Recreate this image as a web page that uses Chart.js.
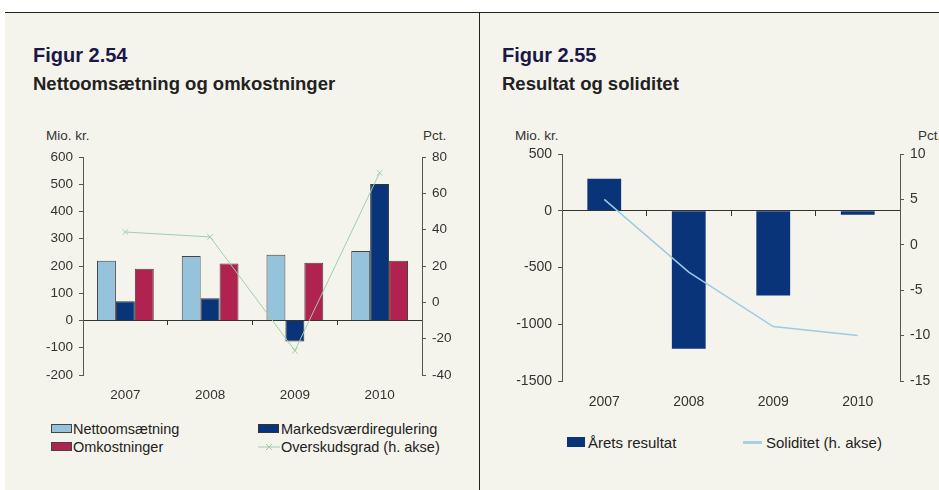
<!DOCTYPE html>
<html>
<head>
<meta charset="utf-8">
<script src="https://cdn.jsdelivr.net/npm/chart.js@4"></script>
<style>
  html, body { margin:0; padding:0; background:#ffffff; width:939px; height:490px; overflow:hidden; }
  body { position:relative; font-family:"Liberation Sans", Arial, sans-serif; }
  #panel { position:absolute; left:5px; top:12px; width:934px; height:478px; background:#f5f4ec; border-top:1.5px solid #222; box-sizing:border-box; }
  #divider { position:absolute; left:478.5px; top:12px; width:1px; height:478px; background:#222; }
  .t { position:absolute; white-space:nowrap; line-height:1; }
  .fig { font-size:20px; font-weight:bold; color:#1b1748; }
  .sub { font-size:18.5px; font-weight:bold; color:#222; }
  .unit { font-size:13.5px; color:#333; }
  .leg { font-size:15px; color:#222; }
  .leg1 { font-size:14.5px; color:#222; }
  .box { position:absolute; box-sizing:border-box; }
  canvas { position:absolute; }
</style>
</head>
<body>
<div id="panel"></div>
<div id="divider"></div>

<div class="t fig" style="left:33px; top:45px;">Figur 2.54</div>
<div class="t sub" style="left:33px; top:75px;">Nettoomsætning og omkostninger</div>
<div class="t unit" style="left:46px; top:129px;">Mio. kr.</div>
<div class="t unit" style="left:423px; top:129px;">Pct.</div>

<div class="t fig" style="left:502px; top:45px;">Figur 2.55</div>
<div class="t sub" style="left:502px; top:75px;">Resultat og soliditet</div>
<div class="t unit" style="left:515px; top:129px;">Mio. kr.</div>
<div class="t unit" style="left:918px; top:129px;">Pct.</div>

<div style="position:absolute; left:5px; top:100px; width:473px; height:310px;"><canvas id="c1" width="473" height="310" style="left:0;top:0;"></canvas></div>
<div style="position:absolute; left:480px; top:100px; width:459px; height:310px;"><canvas id="c2" width="459" height="310" style="left:0;top:0;"></canvas></div>

<!-- Legend chart 1 -->
<div class="box" style="left:51px; top:424px; width:21px; height:9px; background:#96c3dc; border:1px solid #444;"></div>
<div class="t leg1" style="left:73px; top:422px;">Nettoomsætning</div>
<div class="box" style="left:258px; top:424px; width:21px; height:9px; background:#0a3479; border:1px solid #333;"></div>
<div class="t leg1" style="left:281px; top:422px;">Markedsværdiregulering</div>
<div class="box" style="left:51px; top:442px; width:21px; height:9px; background:#b0224f; border:1px solid #444;"></div>
<div class="t leg1" style="left:73px; top:440px;">Omkostninger</div>
<svg style="position:absolute; left:258px; top:441px;" width="22" height="12"><line x1="0" y1="6" x2="22" y2="6" stroke="#9dcfa9" stroke-width="1"/><line x1="8" y1="3" x2="14" y2="9" stroke="#9dcfa9" stroke-width="1"/><line x1="14" y1="3" x2="8" y2="9" stroke="#9dcfa9" stroke-width="1"/></svg>
<div class="t leg1" style="left:281px; top:440px;">Overskudsgrad (h. akse)</div>

<!-- Legend chart 2 -->
<div class="box" style="left:567px; top:437px; width:18px; height:10px; background:#0a3479;"></div>
<div class="t leg" style="left:588px; top:435px;">Årets resultat</div>
<div class="box" style="left:743px; top:441px; width:19px; height:2.5px; background:#a9cfe3;"></div>
<div class="t leg" style="left:766px; top:435px;">Soliditet (h. akse)</div>

<script>
// ---- Data ----
const years = ['2007', '2008', '2009', '2010'];
const nettoomsaetning = [219, 237, 241, 255];
const markedsvaerdiregulering = [71, 82, -77, 501];
const omkostninger = [190, 209, 212, 219];
const overskudsgrad = [38.7, 36, -26.6, 71.3];

const aaretsResultat = [282, -1215, -747, -35];
const soliditet = [5, -3, -9, -10];

const leftTicks1 = { min: -200, max: 600, step: 100 };
const rightTicks1 = { min: -40, max: 80, step: 20 };
const leftTicks2 = { min: -1500, max: 500, step: 500 };
const rightTicks2 = { min: -15, max: 10, step: 5 };

const FONT = '"Liberation Sans", Arial, sans-serif';
const TXT = '#333333';
const AX = '#555555';

function yAxis(pos, t, width, fs) {
  return {
    type: 'linear', position: pos, min: t.min, max: t.max,
    ticks: { stepSize: t.step, color: TXT, padding: 6, font: { family: FONT, size: fs }, callback: v => String(v) },
    grid: { display: true, drawOnChartArea: false, drawTicks: true, tickLength: 4, tickColor: AX },
    border: { display: true, color: AX, width: 1 },
    afterFit: s => { s.width = width; }
  };
}

function xAxes(height, pad, fs, tickLen) {
  return {
    x: {
      type: 'category', position: 'bottom', offset: true,
      grid: { display: false, drawTicks: false },
      border: { display: false },
      ticks: { color: TXT, padding: pad, font: { family: FONT, size: fs }, maxRotation: 0 },
      afterFit: s => { s.height = height; }
    },
    x2: {
      type: 'category', position: { y: 0 }, offset: true,
      grid: { display: true, offset: true, drawOnChartArea: false, drawTicks: true, tickLength: tickLen, tickColor: '#333' },
      border: { display: true, color: '#333', width: 1 },
      ticks: { display: false }
    }
  };
}

const common = {
  responsive: false,
  animation: false,
  events: [],
  plugins: { legend: { display: false }, tooltip: { enabled: false }, title: { display: false } }
};

// ---- Chart 1 ----
new Chart(document.getElementById('c1'), {
  data: {
    labels: years,
    datasets: [
      { type: 'bar', label: 'Nettoomsætning', data: nettoomsaetning, backgroundColor: '#96c3dc', borderColor: '#444', borderWidth: 1, xAxisID: 'x', yAxisID: 'y', order: 1, categoryPercentage: 0.67, barPercentage: 1 },
      { type: 'bar', label: 'Markedsværdiregulering', data: markedsvaerdiregulering, backgroundColor: '#0a3479', borderColor: '#333', borderWidth: 1, xAxisID: 'x', yAxisID: 'y', order: 1, categoryPercentage: 0.67, barPercentage: 1 },
      { type: 'bar', label: 'Omkostninger', data: omkostninger, backgroundColor: '#b0224f', borderColor: '#444', borderWidth: 1, xAxisID: 'x', yAxisID: 'y', order: 1, categoryPercentage: 0.67, barPercentage: 1 },
      { type: 'line', label: 'Overskudsgrad (h. akse)', data: overskudsgrad, borderColor: '#9dcfa9', borderWidth: 1, pointStyle: 'crossRot', pointRadius: 4, pointBorderColor: '#9dcfa9', pointBorderWidth: 1, pointBackgroundColor: 'transparent', tension: 0, fill: false, xAxisID: 'x', yAxisID: 'y1', order: 0 }
    ]
  },
  options: Object.assign({}, common, {
    layout: { padding: { top: 57, bottom: 0, left: 0, right: 0 } },
    scales: Object.assign(xAxes(35, 12, 13.5, 4), {
      y: yAxis('left', leftTicks1, 78, 13.5),
      y1: yAxis('right', rightTicks1, 56, 13.5)
    })
  })
});

// ---- Chart 2 ----
new Chart(document.getElementById('c2'), {
  data: {
    labels: years,
    datasets: [
      { type: 'bar', label: 'Årets resultat', data: aaretsResultat, backgroundColor: '#0a3479', borderWidth: 0, xAxisID: 'x', yAxisID: 'y', order: 1, categoryPercentage: 0.4, barPercentage: 1 },
      { type: 'line', label: 'Soliditet (h. akse)', data: soliditet, borderColor: '#9ccbe3', borderWidth: 1.5, pointRadius: 0, tension: 0, fill: false, xAxisID: 'x', yAxisID: 'y1', order: 0 }
    ]
  },
  options: Object.assign({}, common, {
    layout: { padding: { top: 54, bottom: 0, left: 0, right: 0 } },
    scales: Object.assign(xAxes(29, 13, 14, 5), {
      y: yAxis('left', leftTicks2, 82, 14),
      y1: yAxis('right', rightTicks2, 39, 14)
    })
  })
});
</script>
</body>
</html>
